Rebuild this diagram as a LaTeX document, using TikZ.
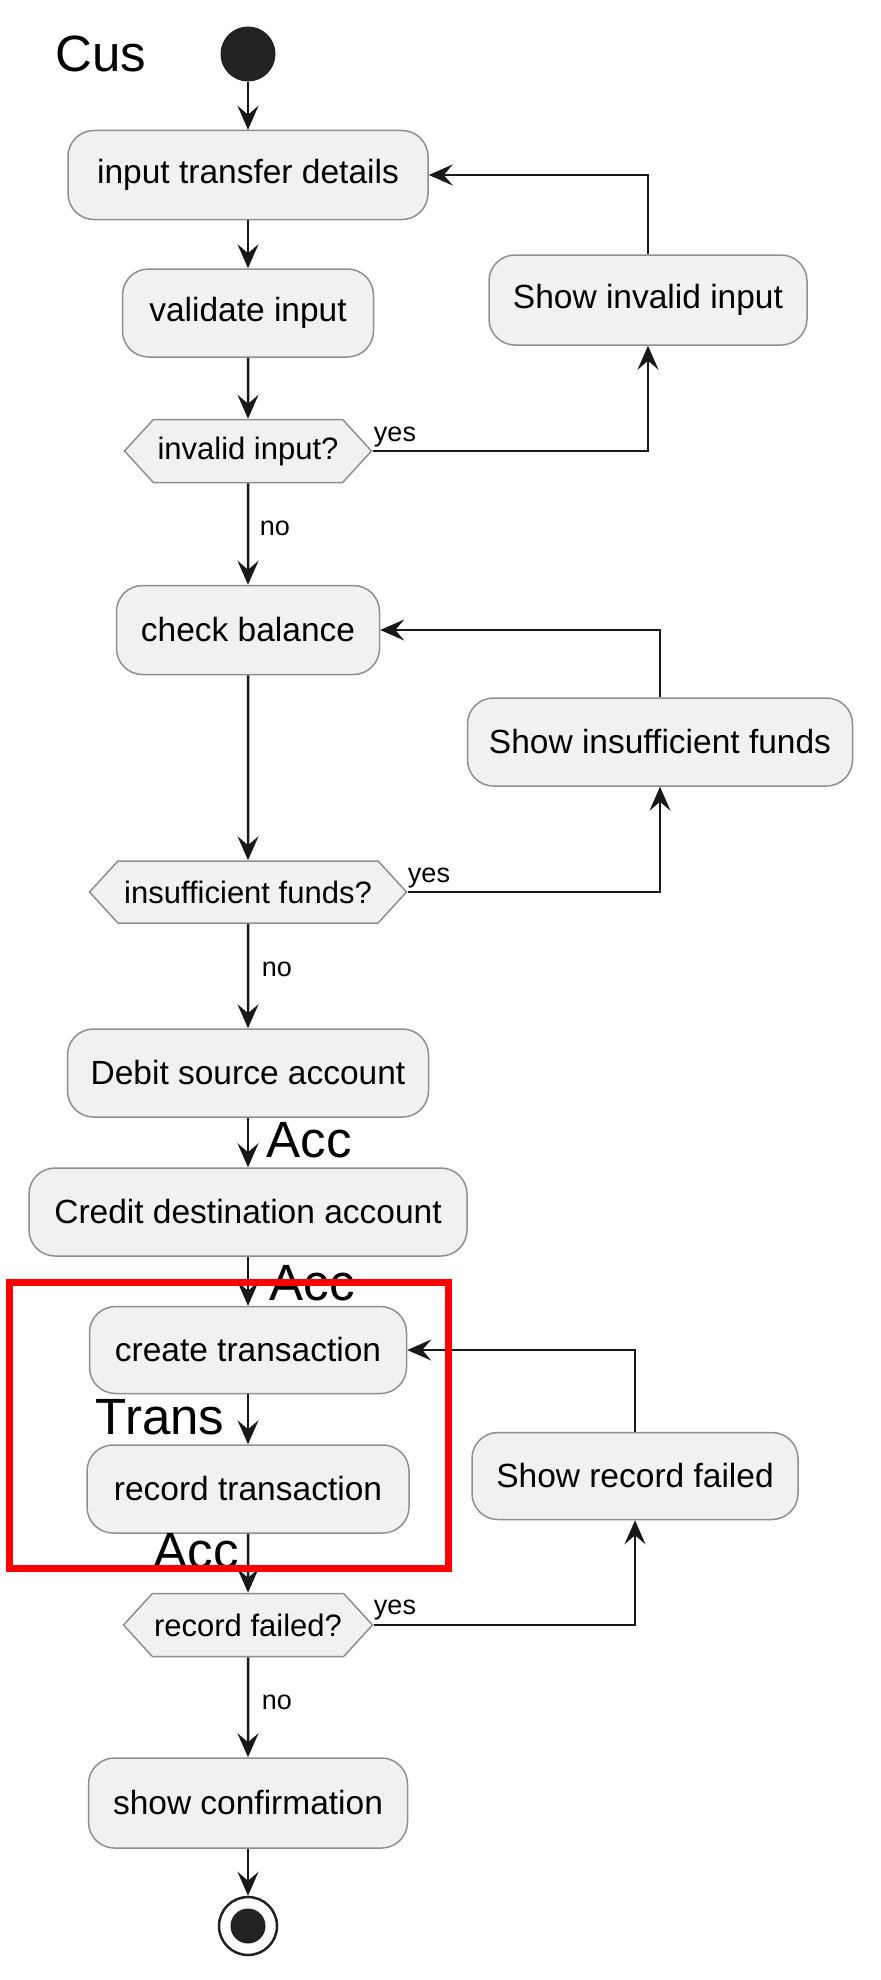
\documentclass[tikz,border=0pt]{standalone}
\usepackage{fontspec}
\setmainfont{Liberation Sans}
\usetikzlibrary{arrows.meta,shapes.symbols}

\newlength{\du}
\setlength{\du}{0.5pt}

\definecolor{boxfill}{rgb}{0.945098, 0.945098, 0.945098}
\definecolor{boxline}{rgb}{0.560784, 0.560784, 0.560784}
\definecolor{dialinecolor}{rgb}{0.094118, 0.094118, 0.094118}
\definecolor{dotcolor}{rgb}{0.133333, 0.133333, 0.133333}
\definecolor{markcolor}{rgb}{1.000000, 0.000000, 0.000000}

\tikzset{
  actbox/.style={rectangle, rounded corners=26\du, draw=boxline, fill=boxfill,
    line width=1.5\du, inner sep=0pt, font=\fontsize{16.75}{20}\selectfont},
  decbox/.style={signal, signal to=west and east, signal pointer angle=95,
    draw=boxline, fill=boxfill, line width=1.5\du, inner sep=0pt,
    font=\fontsize{15.5}{18}\selectfont},
  flow/.style={draw=dialinecolor, line width=2.5\du,
    -{Stealth[length=12pt, width=10.5pt, inset=4.5pt]}},
  yesno/.style={font=\fontsize{13.5}{16}\selectfont, inner sep=0pt},
  lanetext/.style={font=\fontsize{25.5}{30}\selectfont, inner sep=0pt},
}

\begin{document}
\begin{tikzpicture}
\pgftransformxscale{1.000000}
\pgftransformyscale{-1.000000}
\useasboundingbox (0\du,0\du) rectangle (880\du,1980\du);
% start
\node[lanetext] (cus) at (101\du,54\du){Cus};
\node[circle, fill=dotcolor, minimum size=55\du, inner sep=0pt] (start) at (248\du,54\du){};
% input part
\node[actbox, minimum width=360\du, minimum height=89\du] (input) at (248\du,175\du){input transfer details};
\node[actbox, minimum width=251\du, minimum height=88\du] (validate) at (248\du,313\du){validate input};
\node[actbox, minimum width=318\du, minimum height=90\du] (showinvalid) at (648\du,300\du){Show invalid input};
\node[decbox, minimum width=247\du, minimum height=63\du] (isinvalid) at (248\du,451\du){invalid input?};
% balance part
\node[actbox, minimum width=263\du, minimum height=89\du] (balance) at (248\du,630\du){check balance};
\node[actbox, minimum width=385\du, minimum height=88\du] (showfunds) at (660\du,742\du){Show insufficient funds};
\node[decbox, minimum width=317\du, minimum height=62\du] (isfunds) at (248\du,892\du){insufficient funds?};
% accounts
\node[actbox, minimum width=361\du, minimum height=88\du] (debit) at (248\du,1073\du){Debit source account};
\node[actbox, minimum width=438\du, minimum height=88\du] (credit) at (248\du,1212\du){Credit destination account};
% transaction
\node[actbox, minimum width=317\du, minimum height=87\du] (create) at (248\du,1350\du){create transaction};
\node[actbox, minimum width=322\du, minimum height=88\du] (record) at (248\du,1489\du){record transaction};
\node[actbox, minimum width=326\du, minimum height=87\du] (showrecord) at (635\du,1476\du){Show record failed};
\node[decbox, minimum width=249\du, minimum height=63\du] (isfailed) at (248\du,1625\du){record failed?};
\node[actbox, minimum width=319\du, minimum height=90\du] (confirm) at (248\du,1803\du){show confirmation};
% stop
\node[circle, draw=dotcolor, line width=2.5\du, minimum size=58\du, inner sep=0pt] (stop) at (248\du,1926\du){};
\fill[dotcolor] (stop.center) circle (17.5\du);
% connectors
\draw[flow] (start) -- (input);
\draw[flow] (input) -- (validate);
\draw[flow] (validate) -- (isinvalid);
\draw[flow] (isinvalid.east) -| (showinvalid.south);
\draw[flow] (showinvalid.north) |- (input.east);
\draw[flow] (isinvalid) -- (balance);
\draw[flow] (balance) -- (isfunds);
\draw[flow] (isfunds.east) -| (showfunds.south);
\draw[flow] (showfunds.north) |- (balance.east);
\draw[flow] (isfunds) -- (debit);
\draw[flow] (debit) -- (credit);
\draw[flow] (credit) -- (create);
\draw[flow] (create) -- (record);
\draw[flow] (record) -- (isfailed);
\draw[flow] (isfailed.east) -| (showrecord.south);
\draw[flow] (showrecord.north) |- (create.east);
\draw[flow] (isfailed) -- (confirm);
\draw[flow] (confirm) -- (stop);
% branch labels
\node[yesno] (yes1) at (395\du,437\du){yes};
\node[yesno] (no1) at (275\du,528\du){no};
\node[yesno] (yes2) at (429\du,878\du){yes};
\node[yesno] (no2) at (277\du,969\du){no};
\node[yesno] (yes3) at (395\du,1610\du){yes};
\node[yesno] (no3) at (277\du,1702\du){no};
% lane labels
\node[lanetext] (acc1) at (309\du,1140\du){Acc};
\node[lanetext] (acc2) at (312\du,1283\du){Acc};
\node[lanetext] (trans) at (160\du,1417\du){Trans};
\node[lanetext] (acc3) at (196\du,1551\du){Acc};
% red mark
\draw[markcolor, line width=7\du] (9\du,1282\du) rectangle (448\du,1568\du);
\end{tikzpicture}
\end{document}
